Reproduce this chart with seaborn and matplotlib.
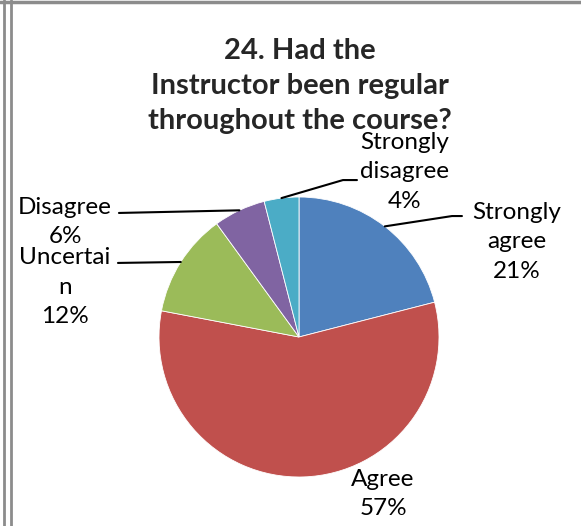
import numpy as np
import matplotlib
matplotlib.use("Agg")
import matplotlib.pyplot as plt
import seaborn as sns

# chart values (clockwise from 12 o'clock)
labels = ["Strongly\nagree", "Agree", "Uncertai\nn", "Disagree", "Strongly\ndisagree"]
values = [21, 57, 12, 6, 4]
colors = ["#4F81BD", "#C0504D", "#9BBB59", "#8064A2", "#4BACC6"]
title = "24. Had the\nInstructor been regular\nthroughout the course?"

# label placement: (text x, text y, leader elbow x, leader end x, leader y) in pie-radius units
label_pos = [
    (1.557, 0.679, 1.093, 1.164, 0.864),
    (0.600, -1.121, None, None, None),
    (-1.671, 0.357, None, -1.293, 0.529),
    (-1.671, 0.821, None, -1.286, 0.886),
    (0.757, 1.179, 0.314, 0.414, 1.121),
]

sns.set_style("white")
plt.rcParams["font.family"] = ["Lato", "DejaVu Sans"]

W, H = 581, 526
fig = plt.figure(figsize=(W / 100, H / 100), dpi=100)
cx, cy, r = 299, 337, 140
ax = fig.add_axes([(cx - r) / W, (H - cy - r) / H, 2 * r / W, 2 * r / H])

wedges, _ = ax.pie(values, colors=colors, startangle=90, counterclock=False,
                   wedgeprops=dict(edgecolor="white", linewidth=0.6))
ax.set_xlim(-1, 1)
ax.set_ylim(-1, 1)
ax.axis("off")

for w, lab, v, pos in zip(wedges, labels, values, label_pos):
    tx, ty, ex, endx, ly = pos
    ax.text(tx, ty, f"{lab}\n{v}%", ha="center", va="center", fontsize=17.5,
            linespacing=1.48, color="black", clip_on=False)
    if endx is not None:
        mid = np.deg2rad((w.theta1 + w.theta2) / 2)
        px, py = np.cos(mid), np.sin(mid)
        if ex is None:
            xs, ys = [px, endx], [py, ly]
        else:
            xs, ys = [px, ex, endx], [py, ly, ly]
        ax.plot(xs, ys, color="black", lw=1.5, clip_on=False)

fig.text(300 / W, 1 - 86 / H, title, ha="center", va="center", fontsize=21,
         fontweight="bold", linespacing=1.42)

# frame lines of the original document
for x in (3.5, 10.5):
    fig.add_artist(plt.Line2D([x / W, x / W], [0, 1], color="#8c8c8c", lw=2,
                              transform=fig.transFigure))
fig.add_artist(plt.Line2D([0, 1], [1 - 2 / H, 1 - 2 / H], color="#8c8c8c", lw=2.5,
                          transform=fig.transFigure))

fig.savefig("out.png", dpi=100, facecolor="white")
